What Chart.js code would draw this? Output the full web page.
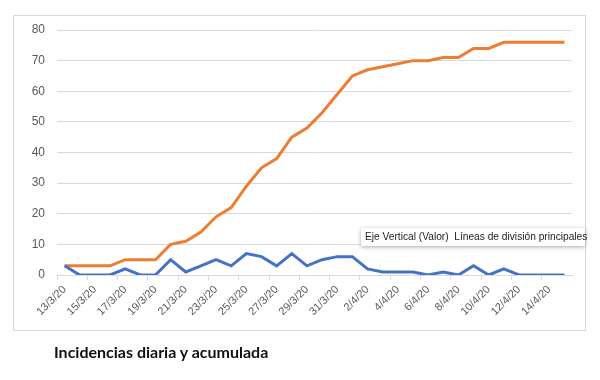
<!DOCTYPE html>
<html>
<head>
<meta charset="utf-8">
<script src="https://cdn.jsdelivr.net/npm/chart.js@4/dist/chart.umd.min.js"></script>
<style>
  body { margin: 0; background: #fff; }
  #wrap { position: relative; width: 600px; height: 380px; }
  #frame { position: absolute; left: 13px; top: 15px; width: 571px; height: 314px; border: 1px solid #d9d9d9; }
  #chart { position: absolute; left: 0; top: 0; }
  #tip { position: absolute; left: 361px; top: 228px; width: 220px; height: 18px; background: #fff;
         box-shadow: 0 1px 4px rgba(0,0,0,0.35); font: 10.2px "Liberation Sans", sans-serif; color: #222;
         line-height: 18px; padding-left: 4px; white-space: nowrap; }
  #title { position: absolute; left: 54px; top: 342px; font: bold 16px Lato, sans-serif; color: #111; }
</style>
</head>
<body>
<div id="wrap">
  <div id="frame"></div>
  <canvas id="chart" width="600" height="380"></canvas>
  <div id="tip">Eje Vertical (Valor)&nbsp; Líneas de división principales</div>
  <div id="title">Incidencias diaria y acumulada</div>
</div>
<script>
  // Fechas
  const fechas = [
    "13/3/20", "14/3/20", "15/3/20", "16/3/20", "17/3/20", "18/3/20", "19/3/20", "20/3/20",
    "21/3/20", "22/3/20", "23/3/20", "24/3/20", "25/3/20", "26/3/20", "27/3/20", "28/3/20",
    "29/3/20", "30/3/20", "31/3/20", "1/4/20", "2/4/20", "3/4/20", "4/4/20", "5/4/20",
    "6/4/20", "7/4/20", "8/4/20", "9/4/20", "10/4/20", "11/4/20", "12/4/20", "13/4/20",
    "14/4/20", "15/4/20"
  ];

  // Incidencia diaria
  const diaria = [3, 0, 0, 0, 2, 0, 0, 5, 1, 3, 5, 3, 7, 6, 3, 7, 3, 5, 6, 6, 2, 1, 1, 1, 0, 1, 0, 3, 0, 2, 0, 0, 0, 0];

  // Incidencia acumulada
  const acumulada = [3, 3, 3, 3, 5, 5, 5, 10, 11, 14, 19, 22, 29, 35, 38, 45, 48, 53, 59, 65, 67, 68, 69, 70, 70, 71, 71, 74, 74, 76, 76, 76, 76, 76];

  const gris = "#595959";
  const lineaGris = "#d9d9d9";

  new Chart(document.getElementById("chart"), {
    type: "line",
    data: {
      labels: fechas,
      datasets: [
        { label: "Diaria", data: diaria, borderColor: "#4472c4", borderWidth: 3, pointRadius: 0, tension: 0 },
        { label: "Acumulada", data: acumulada, borderColor: "#ed7d31", borderWidth: 3, pointRadius: 0, tension: 0 }
      ]
    },
    options: {
      responsive: false,
      animation: false,
      layout: { padding: { left: 14, right: 28, top: 30, bottom: 55 } },
      plugins: { legend: { display: false }, tooltip: { enabled: false } },
      scales: {
        x: {
          offset: true,
          afterFit: scale => { scale.height = 50; },
          border: { color: lineaGris },
          grid: {
            offset: true,
            drawOnChartArea: false,
            tickLength: 5,
            color: ctx => (ctx.index % 2 === 0 ? lineaGris : "rgba(0,0,0,0)")
          },
          ticks: {
            autoSkip: false,
            minRotation: 45,
            maxRotation: 45,
            color: gris,
            font: { family: "Liberation Sans", size: 11 },
            callback: (v, i) => (i % 2 === 0 ? fechas[i] : "")
          }
        },
        y: {
          min: 0,
          max: 80,
          afterFit: scale => { scale.width = 43; },
          border: { display: false },
          grid: { color: lineaGris, drawTicks: false },
          ticks: { stepSize: 10, padding: 12, color: gris, font: { family: "Liberation Sans", size: 12 } }
        }
      }
    }
  });
</script>
</body>
</html>
